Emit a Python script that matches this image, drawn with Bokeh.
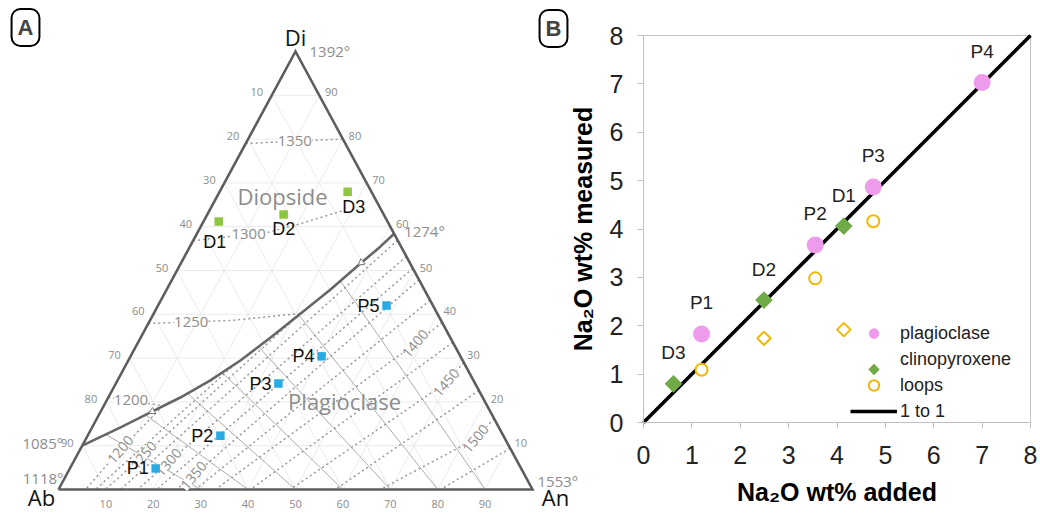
import numpy as np
from bokeh.plotting import figure
from bokeh.models import Range1d, LinearAxis, FixedTicker, Label, Legend, LegendItem
from bokeh.core.properties import value
from bokeh.embed import file_html
from bokeh.resources import INLINE

W, H = 1040, 513

# ---------------- Panel A: Di-Ab-An liquidus diagram (wt% Di and An; Ab is the remainder)
D_NAMES = ["D1", "D2", "D3"]
D_DI = [61.2, 62.8, 68.0]
D_AN = [3.2, 16.1, 27.0]

P_NAMES = ["P1", "P2", "P3", "P4", "P5"]
P_DI = [4.8, 12.3, 24.2, 30.4, 42.0]
P_AN = [18.1, 28.0, 34.3, 40.3, 48.2]

# diopside-plagioclase cotectic, from the Di-Ab join (1085) to the Di-An join (1274)
COT_DI = [10.0, 14.2, 17.6, 21.0, 24.9, 29.5, 34.7, 40.2, 45.7, 51.6, 55.5, 58.4]
COT_AN = [0.0, 6.0, 10.6, 15.2, 19.6, 23.7, 27.4, 31.0, 34.6, 37.9, 40.2, 41.6]
COT_T = ["1085°", "1274°"]

# isotherms in the diopside field
DI_ISO_T = ["1350", "1300", "1250", "1200"]
DI_ISO_DI = [[79.0, 80.0], [56.8, 58.7, 60.5, 63.7], [37.9, 38.6, 40.2], [21.0, 19.1]]
DI_ISO_AN = [[0.0, 20.0], [0.0, 14.8, 20.2, 28.3], [0.0, 17.0, 31.0], [0.0, 12.5]]
DI_ISO_LABEL_DI = [79.5, 58.4, 38.2, 20.4]
DI_ISO_LABEL_AN = [10.1, 10.9, 8.9, 5.1]

# isotherms in the plagioclase field (every 25 degrees, from 1200 to 1525)
PL_ISO_DI = [[19.1, 9.1, 0], [28.7, 0], [40.2, 7.8, 0], [56.9, 0], [53.2, 6.2, 0], [50.5, 0],
             [47.9, 3.2, 0], [43.2, 0], [38.1, 33.3, 0], [33.6, 0], [29.0, 24.4, 0], [22.6, 0],
             [16.2, 11.6, 0], [9.4, 0]]
PL_ISO_AN = [[12.5, 8.5, 5.7], [23.0, 7.8], [31.0, 14.05, 9.9], [43.1, 13.1], [46.8, 20.1, 16.7],
             [49.5, 20.7], [52.1, 26.9, 24.9], [56.8, 28.9], [61.9, 58.6, 33.1], [66.4, 40.5],
             [71.0, 69.6, 48.9], [77.4, 58.4], [83.8, 82.2, 67.9], [90.6, 80.6]]
PL_ISO_T = ["1200", "1250", "1300", "1350", "1400", "1450", "1500"]
PL_ISO_LABEL_DI = [9.1, 7.8, 6.2, 3.2, 33.3, 24.4, 11.6]
PL_ISO_LABEL_AN = [8.5, 14.05, 20.1, 26.9, 58.6, 69.6, 82.2]

# fractionation lines: plagioclase on the Ab-An join to the cotectic
TIE_BASE_AN = [30, 40, 50, 60, 70, 80, 90]
TIE_TOP_DI = [12.6, 17.0, 21.9, 26.7, 32.6, 39.9, 47.6]
TIE_TOP_AN = [3.6, 9.9, 16.3, 21.2, 25.9, 30.7, 35.7]

ARROW_DI = [17.8, 51.8]
ARROW_AN = [10.9, 38.0]

EDGE_TICKS = [10, 20, 30, 40, 50, 60, 70, 80, 90]
VERTEX_NAMES = ["Ab", "An", "Di"]
VERTEX_T = ["1118°", "1553°", "1392°"]
FIELD_NAMES = ["Diopside", "Plagioclase"]
FIELD_DI = [66.9, 20.1]
FIELD_AN = [13.8, 50.3]

# ---------------- Panel B: Na2O added vs measured (wt%)
PLAG_NAMES = ["P1", "P2", "P3", "P4"]
PLAG_ADDED = [1.20, 3.55, 4.75, 7.00]
PLAG_MEASURED = [1.83, 3.67, 4.87, 7.03]
CPX_NAMES = ["D1", "D2", "D3"]
CPX_ADDED = [4.14, 2.49, 0.62]
CPX_MEASURED = [4.06, 2.53, 0.80]
LOOP_PLAG_ADDED = [1.20, 3.55, 4.75]
LOOP_PLAG_MEASURED = [1.09, 2.98, 4.16]
LOOP_CPX_ADDED = [2.49, 4.14]
LOOP_CPX_MEASURED = [1.74, 1.92]
ONE_TO_ONE = [0, 8]
B_TICKS = [0, 1, 2, 3, 4, 5, 6, 7, 8]

# ---------------- layout (canvas pixels)
TRI_LEFT, TRI_RIGHT, TRI_BASE, TRI_TOP = 58, 532, 489, 51
KX = (TRI_RIGHT - TRI_LEFT) / 100.0
KY = (TRI_BASE - TRI_TOP) / 100.0
B_LEFT, B_RIGHT, B_TOP, B_BOTTOM = 643, 1030, 35, 422
KBX = (B_RIGHT - B_LEFT) / B_TICKS[-1]
KBY = (B_BOTTOM - B_TOP) / B_TICKS[-1]
LEG_LEFT, LEG_BOTTOM, LEG_GLYPH_W, LEG_ROW = 850, 424, 47, 21

GRAY = "#8c8c8c"
SANS = value("Open Sans")
ARIAL = value("Liberation Sans")


def tern(di, an):
    """Ternary (Di, An) in wt% -> cartesian; Ab sits at the origin, An at x=100."""
    di = np.asarray(di, dtype=float)
    an = np.asarray(an, dtype=float)
    return an + di / 2.0, di


p = figure(width=W, height=H, output_backend="svg", toolbar_location=None,
           x_range=Range1d(-TRI_LEFT / KX, (W - TRI_LEFT) / KX),
           y_range=Range1d(-(H - TRI_BASE) / KY, TRI_BASE / KY),
           x_axis_type=None, y_axis_type=None, min_border=0,
           outline_line_color=None, background_fill_color="white", border_fill_color="white")
p.title.visible = False
p.extra_x_ranges = {"bx": Range1d(-B_LEFT / KBX, (W - B_LEFT) / KBX)}
p.extra_y_ranges = {"by": Range1d(-(H - B_BOTTOM) / KBY, B_BOTTOM / KBY)}

# ===== Panel A =====
# faint 10% grid in the three directions
gxs, gys = [], []
for k in EDGE_TICKS:
    for d_pair, a_pair in (((k, k), (0, 100 - k)), ((0, 100 - k), (k, k)), ((0, 100 - k), (100 - k, 0))):
        gx, gy = tern(d_pair, a_pair)
        gxs.append(list(gx))
        gys.append(list(gy))
p.multi_line(gxs, gys, line_color="#ebebeb", line_width=1)

# fractionation lines in the plagioclase field
txs, tys = [], []
for ba, td, ta in zip(TIE_BASE_AN, TIE_TOP_DI, TIE_TOP_AN):
    tx, ty = tern([0, td], [ba, ta])
    txs.append(list(tx))
    tys.append(list(ty))
p.multi_line(txs, tys, line_color="#a3a3a3", line_width=0.9)

# dotted isotherms
ixs, iys = [], []
for dl, al in list(zip(DI_ISO_DI, DI_ISO_AN)) + list(zip(PL_ISO_DI, PL_ISO_AN)):
    ix, iy = tern(dl, al)
    ixs.append(list(ix))
    iys.append(list(iy))
p.multi_line(ixs, iys, line_color="#999999", line_width=1.5, line_dash="2 3")

# cotectic and its arrows
cx, cy = tern(COT_DI, COT_AN)
p.line(cx, cy, line_color="#666666", line_width=2.6, line_join="round")
ax_, ay_ = tern(ARROW_DI, ARROW_AN)
p.scatter(ax_, ay_, marker="triangle", size=7, angle=np.deg2rad([117, 129]),
          fill_color="white", line_color="#777777", line_width=1)

# triangle outline
ox, oy = tern([0, 0, 100, 0], [0, 100, 0, 0])
p.line(ox, oy, line_color="#5e5e5e", line_width=2.6, line_join="miter")

# edge tick labels
tick_text = [str(v) for v in EDGE_TICKS]
tick_style = dict(text_font=SANS, text_font_size="11px", text_color=GRAY,
                  text_align="center", text_baseline="middle")
lx, ly = tern([100 - v for v in EDGE_TICKS], [0] * len(EDGE_TICKS))
p.text(lx, ly, text=tick_text, x_offset=-15, y_offset=-3, **tick_style)
rx, ry = tern(EDGE_TICKS, [100 - v for v in EDGE_TICKS])
p.text(rx, ry, text=tick_text, x_offset=12, y_offset=-3, **tick_style)
bx_, by_ = tern([0] * len(EDGE_TICKS), EDGE_TICKS)
p.text(bx_, by_, text=tick_text, x_offset=0, y_offset=14, **tick_style)

# isotherm labels
dlx, dly = tern(DI_ISO_LABEL_DI, DI_ISO_LABEL_AN)
p.text(dlx, dly, text=DI_ISO_T, text_font=SANS, text_font_size="15px", text_color=GRAY,
       text_align="center", text_baseline="middle", background_fill_color="white")
plx, ply = tern(PL_ISO_LABEL_DI, PL_ISO_LABEL_AN)
p.text(plx, ply, text=PL_ISO_T, angle=np.deg2rad(50), text_font=SANS, text_font_size="14px",
       text_color=GRAY, text_align="center", text_baseline="middle", background_fill_color="white")

# field names
fx, fy = tern(FIELD_DI, FIELD_AN)
p.text(fx, fy, text=FIELD_NAMES, text_font=SANS, text_font_size="22px",
       text_color=GRAY, text_align="center", text_baseline="middle")

# vertex names and melting points
vx, vy = tern([0, 0, 100], [0, 100, 0])
p.text(vx, vy, text=VERTEX_NAMES, x_offset=[-17, 23, 0], y_offset=[7, 7, -15],
       text_font=SANS, text_font_size="22px", text_color="#111111", text_align="center", text_baseline="middle")
p.text(vx, vy, text=VERTEX_T, x_offset=[5, 5, 14], y_offset=[-12, -9, -1],
       text_align=["right", "left", "left"], text_font=SANS, text_font_size="15px",
       text_color=GRAY, text_baseline="middle")
cex, cey = tern([COT_DI[0], COT_DI[-1]], [COT_AN[0], COT_AN[-1]])
p.text(cex, cey, text=COT_T, x_offset=[-19, 10], y_offset=[-3, -3], text_align=["right", "left"],
       text_font=SANS, text_font_size="15px", text_color=GRAY, text_baseline="middle")

# experiment compositions
dx_, dy_ = tern(D_DI, D_AN)
p.scatter(dx_, dy_, marker="square", size=8.5, fill_color="#8DC63F", line_color=None)
p.text(dx_, dy_, text=D_NAMES, x_offset=[-4, 0, 6], y_offset=[21, 15, 15], text_font=ARIAL,
       text_font_size="18px", text_color="#111111", text_align="center", text_baseline="middle")
px_, py_ = tern(P_DI, P_AN)
p.scatter(px_, py_, marker="square", size=8.5, fill_color="#29ABE2", line_color=None)
p.text(px_, py_, text=P_NAMES, x_offset=-7, y_offset=0, text_font=ARIAL,
       text_font_size="18px", text_color="#111111", text_align="right", text_baseline="middle")

p.add_layout(Label(x=(25 - TRI_LEFT) / KX, y=(TRI_BASE - 27) / KY, text="A",
                   text_font="Liberation Sans", text_font_size="22px", text_font_style="bold",
                   text_align="center", text_baseline="middle", border_line_color="black",
                   border_line_width=2, border_radius=9, padding=6, background_fill_color="white"))

# ===== Panel B =====
BR = dict(x_range_name="bx", y_range_name="by")
p.line([0, B_TICKS[-1], B_TICKS[-1]], [B_TICKS[-1], B_TICKS[-1], 0], line_color="#c4c4c4", line_width=1, **BR)
r_line = p.line(ONE_TO_ONE, ONE_TO_ONE, line_color="black", line_width=3.6, **BR)
r_plag = p.scatter(PLAG_ADDED, PLAG_MEASURED, marker="circle", size=17, fill_color="#EE9BEC",
                   line_color=None, **BR)
CPX_STYLE = dict(marker="square", angle=np.pi / 4, fill_color="#6FAA46", line_color=None)
p.scatter(CPX_ADDED, CPX_MEASURED, size=12.5, **CPX_STYLE, **BR)
r_loop = p.scatter(LOOP_PLAG_ADDED, LOOP_PLAG_MEASURED, marker="circle", size=12, fill_color="white",
                   line_color="#F2B705", line_width=2, **BR)
p.scatter(LOOP_CPX_ADDED, LOOP_CPX_MEASURED, marker="square", angle=np.pi / 4, size=9.5,
          fill_color="white", line_color="#F2B705", line_width=2, **BR)
p.text(PLAG_ADDED + CPX_ADDED, PLAG_MEASURED + CPX_MEASURED, text=PLAG_NAMES + CPX_NAMES,
       y_offset=-31, text_font=ARIAL, text_font_size="19px", text_color="#222222",
       text_align="center", text_baseline="middle", **BR)

axis_style = dict(axis_line_color="#bfbfbf", axis_line_width=1, major_tick_line_color="#bfbfbf",
                  major_tick_out=6, major_tick_in=0, minor_tick_line_color=None,
                  major_label_text_font="Liberation Sans", major_label_text_font_size="25px",
                  major_label_text_color="#222222", axis_label_text_font="Liberation Sans",
                  axis_label_text_font_size="25px", axis_label_text_font_style="bold",
                  axis_label_text_color="black")
xax = LinearAxis(fixed_location=0, bounds=(0, B_TICKS[-1]), ticker=FixedTicker(ticks=B_TICKS),
                 axis_label="Na₂O wt% added", major_label_standoff=17, axis_label_standoff=11,
                 **BR, **axis_style)
p.add_layout(xax, "below")
yax = LinearAxis(fixed_location=0, bounds=(0, B_TICKS[-1]), ticker=FixedTicker(ticks=B_TICKS),
                 axis_label="Na₂O wt% measured", major_label_standoff=14, axis_label_standoff=10,
                 **BR, **axis_style)
p.add_layout(yax, "left")

# legend: the key for clinopyroxene is drawn as a rotated square next to its (blank) legend row
r_cpx_key = p.scatter([], [], marker="square", fill_alpha=0, line_alpha=0, **BR)
legend = Legend(items=[LegendItem(label="plagioclase", renderers=[r_plag]),
                       LegendItem(label="clinopyroxene", renderers=[r_cpx_key]),
                       LegendItem(label="loops", renderers=[r_loop]),
                       LegendItem(label="1 to 1", renderers=[r_line])],
                location=(LEG_LEFT, H - LEG_BOTTOM), orientation="vertical", padding=0, margin=0,
                spacing=-5, glyph_width=LEG_GLYPH_W, glyph_height=26, label_height=LEG_ROW,
                label_standoff=3, label_text_font="Liberation Sans", label_text_font_size="18px",
                label_text_color="#222222", background_fill_alpha=0, border_line_alpha=0)
p.add_layout(legend, "center")
key_px = LEG_LEFT + LEG_GLYPH_W / 2.0
key_py = LEG_BOTTOM - 13 - 2 * LEG_ROW
p.scatter([(key_px - B_LEFT) / KBX], [(B_BOTTOM - key_py) / KBY], size=8, **CPX_STYLE, **BR)

p.add_layout(Label(x=(553 - B_LEFT) / KBX, y=(B_BOTTOM - 28) / KBY, text="B",
                   text_font="Liberation Sans", text_font_size="22px", text_font_style="bold",
                   text_align="center", text_baseline="middle", border_line_color="black",
                   border_line_width=2, border_radius=9, padding=6, background_fill_color="white", **BR))

open("out.html", "w").write(file_html(p, INLINE))
